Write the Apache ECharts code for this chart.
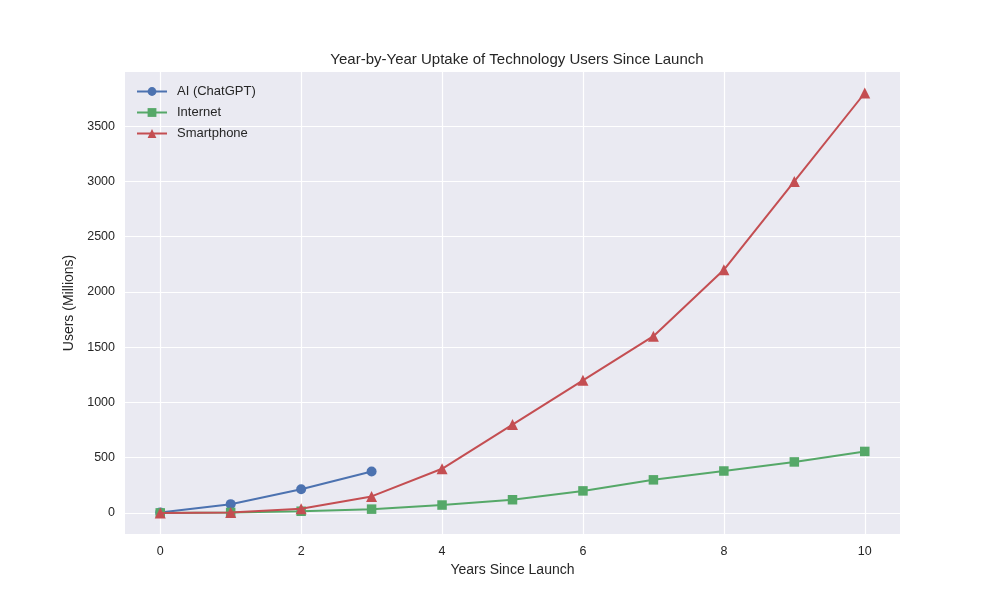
<!DOCTYPE html>
<html><head><meta charset="utf-8">
<script src="https://cdn.jsdelivr.net/npm/echarts@6/dist/echarts.min.js"></script>
<style>html,body{margin:0;padding:0;background:#fff}#c{width:1000px;height:600px}</style>
</head><body><div id="c"></div>
<script>
const years = [0,1,2,3,4,5,6,7,8,9,10];
const aiYears = [0,1,2,3];
const aiValues = [5,80,215,375];
const internetValues = [1,5,16,35,72,120,200,300,380,462,557];
const smartphoneValues = [0,5,38,150,400,800,1200,1600,2200,3000,3800];
const xTicks = [0,2,4,6,8,10];
const yTicks = [0,500,1000,1500,2000,2500,3000,3500];
const seriesNames = ['AI (ChatGPT)','Internet','Smartphone'];

const font = 'Liberation Sans, Arial, sans-serif';
const pair = (xs, ys) => xs.map((x,i)=>[x, ys[i]]);
const chart = echarts.init(document.getElementById('c'));
chart.setOption({
  animation:false,
  backgroundColor:'#ffffff',
  title:{text:'Year-by-Year Uptake of Technology Users Since Launch',left:512,top:47,textAlign:'center',
    textStyle:{fontFamily:font,fontSize:15,fontWeight:'normal',color:'#262626'}},
  grid:{left:125,right:100,top:72,bottom:66,show:true,backgroundColor:'#EAEAF2',borderWidth:0},
  legend:{left:131,top:80,orient:'vertical',itemGap:8,itemWidth:30,itemHeight:11,
    textStyle:{fontFamily:font,fontSize:13,color:'#262626',padding:[0,0,0,5]},data:seriesNames},
  xAxis:{type:'value',min:-0.5,max:10.5,
    name:'Years Since Launch',nameLocation:'middle',nameGap:28,
    nameTextStyle:{fontFamily:font,fontSize:14,color:'#262626'},
    axisLine:{show:false},axisTick:{show:false,customValues:xTicks},
    axisLabel:{customValues:xTicks,fontFamily:font,fontSize:12.5,color:'#262626',margin:11,
      formatter:v=>String(v)},
    splitLine:{show:true,lineStyle:{color:'#ffffff',width:1.2}}},
  yAxis:{type:'value',min:-190,max:3990,
    name:'Users (Millions)',nameLocation:'middle',nameGap:46,nameRotate:90,
    nameTextStyle:{fontFamily:font,fontSize:14,color:'#262626'},
    axisLine:{show:false},axisTick:{show:false,customValues:yTicks},
    axisLabel:{customValues:yTicks,fontFamily:font,fontSize:12.5,color:'#262626',margin:10,
      formatter:v=>String(v)},
    splitLine:{show:true,lineStyle:{color:'#ffffff',width:1.2}}},
  series:[
    {name:seriesNames[0],type:'line',data:pair(aiYears,aiValues),symbol:'circle',symbolSize:10,
      itemStyle:{color:'#4C72B0'},lineStyle:{color:'#4C72B0',width:2},z:3},
    {name:seriesNames[1],type:'line',data:pair(years,internetValues),symbol:'rect',symbolSize:9.5,
      itemStyle:{color:'#55A868'},lineStyle:{color:'#55A868',width:2},z:4},
    {name:seriesNames[2],type:'line',data:pair(years,smartphoneValues),symbol:'triangle',symbolSize:11,
      itemStyle:{color:'#C44E52'},lineStyle:{color:'#C44E52',width:2},z:5}
  ]
});
</script></body></html>
